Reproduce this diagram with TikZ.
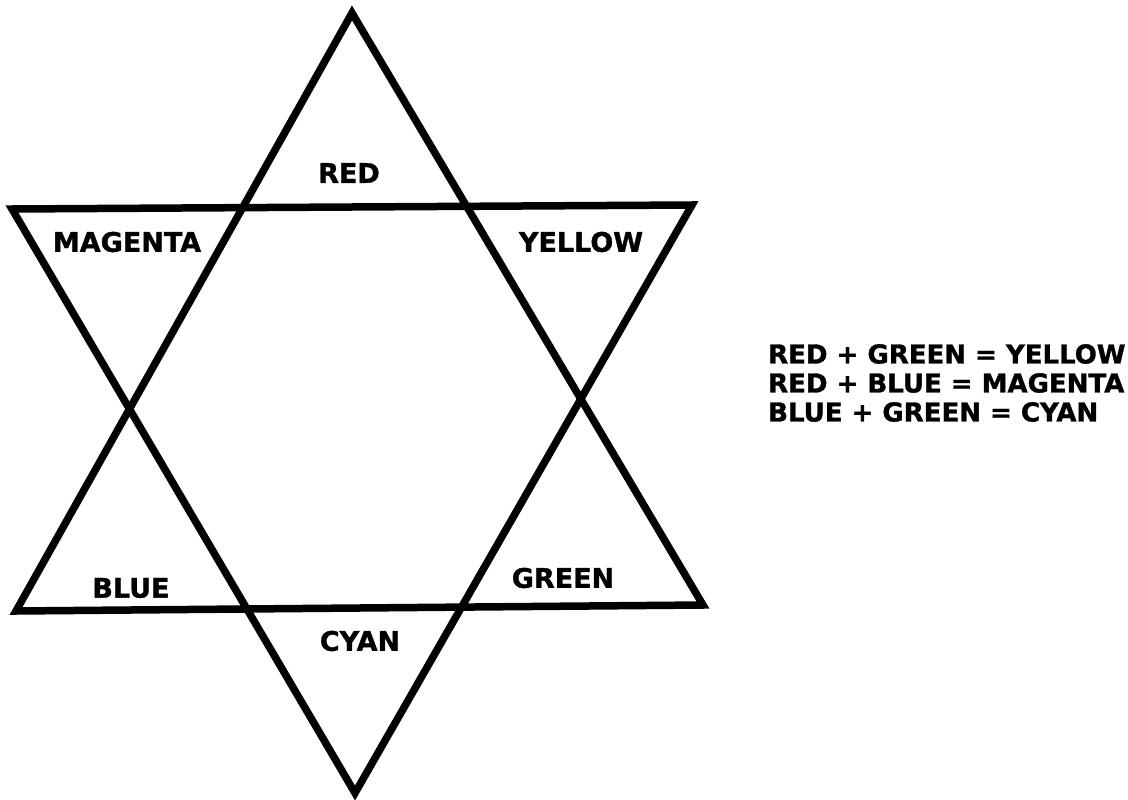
\documentclass[tikz,border=0pt]{standalone}
\usepackage{fontspec}
\setmainfont{DejaVu Sans}
\newfontfamily\heavyfont[FakeBold=1.2]{DejaVu Sans Bold}
\begin{document}
\begin{tikzpicture}[x=1pt,y=-1pt,
  edge/.style={line width=7.5pt,black},
  lbl/.style={font=\fontsize{27}{27}\heavyfont,inner sep=0pt},
  eqn/.style={font=\fontsize{26}{29}\heavyfont,inner sep=0pt,align=left,anchor=west}]
\useasboundingbox (0,0) rectangle (1128,800);
% up-pointing triangle
\coordinate (T) at (352,13);
\coordinate (BL) at (16,611);
\coordinate (BR) at (703,605);
% down-pointing triangle
\coordinate (TL) at (12,209);
\coordinate (TR) at (692,205);
\coordinate (B) at (355,793);
\draw[edge] (T) -- (BL) -- (BR) -- cycle;
\draw[edge] (TL) -- (TR) -- (B) -- cycle;
% labels
\node[lbl] (red) at (349,173) {RED};
\node[lbl] (magenta) at (127,242) {MAGENTA};
\node[lbl] (yellow) at (581,242) {YELLOW};
\node[lbl] (blue) at (131,588) {BLUE};
\node[lbl] (green) at (563,578) {GREEN};
\node[lbl] (cyan) at (360,641) {CYAN};
\node[eqn] (eq) at (768,383) {RED + GREEN = YELLOW\\RED + BLUE = MAGENTA\\BLUE + GREEN = CYAN};
\end{tikzpicture}
\end{document}
